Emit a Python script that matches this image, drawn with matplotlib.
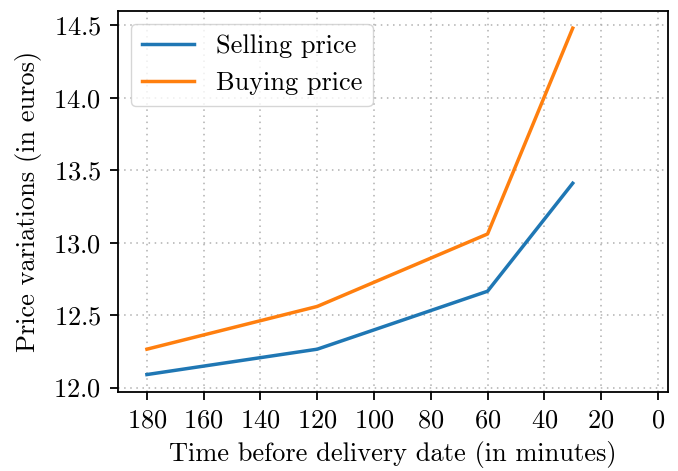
import matplotlib
matplotlib.use("Agg")
import matplotlib.pyplot as plt

plt.rcParams['font.family'] = 'serif'
plt.rcParams['font.serif'] = ['cmr10']
plt.rcParams['mathtext.fontset'] = 'cm'
plt.rcParams['axes.formatter.use_mathtext'] = True
plt.rcParams['font.size'] = 19

times = [180, 120, 60, 30]
selling = [12.09, 12.265, 12.665, 13.41]
buying = [12.265, 12.56, 13.06, 14.48]
xticks = [180, 160, 140, 120, 100, 80, 60, 40, 20, 0]

fig, ax = plt.subplots(figsize=(6.78, 4.71), dpi=100)
ax.plot(times, selling, color='#1f77b4', lw=2.5, label='Selling price')
ax.plot(times, buying, color='#ff7f0e', lw=2.5, label='Buying price')
ax.set_xticks(xticks)
ax.set_xlim(190.2, -3.5)
ax.grid(True, linestyle=(0, (1, 3)), color='#b0b0b0', lw=1.1)
ax.set_xlabel('Time before delivery date (in minutes)', labelpad=6)
ax.set_ylabel('Price variations (in euros)', labelpad=8)
ax.tick_params(length=6, width=1.3, pad=6)
for s in ax.spines.values():
    s.set_linewidth(1.3)
ax.legend(loc='upper left')
fig.subplots_adjust(left=0.174, right=0.985, top=0.977, bottom=0.168)
plt.savefig("out.png")
